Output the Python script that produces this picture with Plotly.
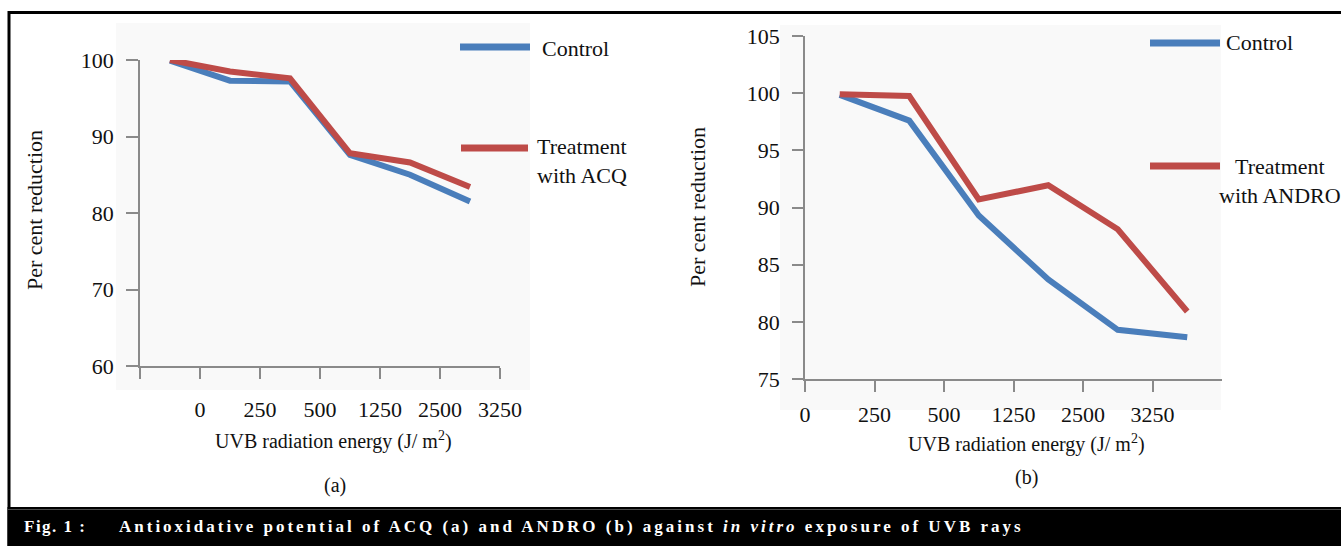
import numpy as np
import plotly.graph_objects as go

W, H = 1341, 546

# ---- data ----
energy_labels = ["0", "250", "500", "1250", "2500", "3250"]
acq_control = [99.9, 97.3, 97.2, 87.6, 85.0, 81.5]
acq_treatment = [100.0, 98.5, 97.6, 87.8, 86.6, 83.4]
andro_control = [99.85, 97.6, 89.3, 83.7, 79.3, 78.65]
andro_treatment = [99.9, 99.75, 90.7, 91.95, 88.1, 80.9]
y_ticks_a = [60, 70, 80, 90, 100]
y_ticks_b = [75, 80, 85, 90, 95, 100, 105]

BLUE = "#4a7ebb"
RED = "#be4b48"
AXIS = "#8a8a8a"
SERIF = "Liberation Serif, Times New Roman, serif"

def px_x(v):
    return v / W

def px_y(v):
    return 1 - v / H

xpos = np.arange(len(energy_labels)) + 0.5

fig = go.Figure()
fig.add_trace(go.Scatter(x=xpos, y=acq_control, mode="lines", name="Control",
                         line=dict(color=BLUE, width=6), xaxis="x", yaxis="y", showlegend=False))
fig.add_trace(go.Scatter(x=xpos, y=acq_treatment, mode="lines", name="Treatment with ACQ",
                         line=dict(color=RED, width=6), xaxis="x", yaxis="y", showlegend=False))
fig.add_trace(go.Scatter(x=xpos, y=andro_control, mode="lines", name="Control",
                         line=dict(color=BLUE, width=6), xaxis="x2", yaxis="y2", showlegend=False))
fig.add_trace(go.Scatter(x=xpos, y=andro_treatment, mode="lines", name="Treatment with ANDRO",
                         line=dict(color=RED, width=6), xaxis="x2", yaxis="y2", showlegend=False))

tickfont = dict(family=SERIF, size=22, color="#111")
axis_common = dict(showline=True, linecolor=AXIS, linewidth=1.5, ticks="outside",
                   tickcolor=AXIS, tickwidth=1.5, showgrid=False, zeroline=False,
                   tickfont=tickfont, fixedrange=True)

n = len(energy_labels)
fig.update_layout(
    width=W, height=H, margin=dict(l=0, r=0, t=0, b=0, autoexpand=False),
    paper_bgcolor="white", plot_bgcolor="rgba(0,0,0,0)",
    xaxis=dict(domain=[px_x(140), px_x(500)], range=[0, n], anchor="y",
               tickmode="array", tickvals=list(range(1, n + 1)),
               ticktext=energy_labels, ticklen=11, ticklabelstandoff=12,
               minor=dict(tickmode="array", tickvals=[0], ticks="outside", ticklen=11,
                          tickcolor=AXIS, tickwidth=1.5, showgrid=False),
               **axis_common),
    yaxis=dict(domain=[px_y(366), px_y(60)], range=[60, 100], anchor="x",
               tickmode="array", tickvals=y_ticks_a, ticklen=12, ticklabelstandoff=8, **axis_common),
    xaxis2=dict(domain=[px_x(805), px_x(1222)], range=[0, n], anchor="y2",
                tickmode="array", tickvals=list(range(n)),
                ticktext=energy_labels, ticklen=11, ticklabelstandoff=4, **axis_common),
    yaxis2=dict(domain=[px_y(379), px_y(36)], range=[75, 105], anchor="x2",
                tickmode="array", tickvals=y_ticks_b, ticklen=11, ticklabelstandoff=8, **axis_common),
)

shapes = []
# subtle chart-area backgrounds
shapes.append(dict(type="rect", xref="paper", yref="paper", layer="below",
                   x0=px_x(116), x1=px_x(530), y0=px_y(390), y1=px_y(23),
                   fillcolor="#f9f9f9", line=dict(width=0)))
shapes.append(dict(type="rect", xref="paper", yref="paper", layer="below",
                   x0=px_x(780), x1=px_x(1221), y0=px_y(410), y1=px_y(25),
                   fillcolor="#f9f9f9", line=dict(width=0)))
# frame
shapes.append(dict(type="line", xref="paper", yref="paper", x0=px_x(8), x1=1, y0=px_y(12.5), y1=px_y(12.5),
                   line=dict(color="black", width=3)))
shapes.append(dict(type="line", xref="paper", yref="paper", x0=px_x(9), x1=px_x(9), y0=0, y1=px_y(11),
                   line=dict(color="black", width=3)))
# caption bar
shapes.append(dict(type="rect", xref="paper", yref="paper", x0=px_x(7.5), x1=1, y0=0, y1=px_y(507),
                   fillcolor="black", line=dict(width=0)))
shapes.append(dict(type="line", xref="paper", yref="paper", x0=px_x(7.5), x1=1, y0=px_y(509.5), y1=px_y(509.5),
                   line=dict(color="#4a4a4a", width=1)))
# legend swatches
for x0, x1, y, c in [(460, 530, 47, BLUE), (461, 528, 148, RED),
                     (1150, 1220, 43, BLUE), (1150, 1220, 166, RED)]:
    shapes.append(dict(type="line", xref="paper", yref="paper", x0=px_x(x0), x1=px_x(x1),
                       y0=px_y(y), y1=px_y(y), line=dict(color=c, width=7)))
fig.update_layout(shapes=shapes)

ann = []
def text(x, y, s, size=22, xanchor="center", yanchor="middle", angle=0, color="#111", align="center"):
    ann.append(dict(x=px_x(x), y=px_y(y), xref="paper", yref="paper", text=s, showarrow=False,
                    xanchor=xanchor, yanchor=yanchor, textangle=angle, align=align,
                    font=dict(family=SERIF, size=size, color=color)))

text(35, 210, "Per cent reduction", angle=-90)
text(697, 207, "Per cent reduction", angle=-90)
text(333, 440, "UVB radiation energy (J/ m<sup>2</sup>)", size=20)
text(1026, 443, "UVB radiation energy (J/ m<sup>2</sup>)", size=20)
text(335, 485, "(a)", size=20)
text(1026, 477, "(b)", size=20)
text(540, 48, "Control", xanchor="left")
text(535, 161, "Treatment<br>with ACQ", xanchor="left", align="left")
text(1224, 43, "Control", xanchor="left")
text(1217, 181, "Treatment<br>with ANDRO", xanchor="left")
text(22, 526, '<span style="letter-spacing:1.5px"><b>Fig. 1 :</b></span>', size=17, xanchor="left", color="white")
text(117, 526, '<span style="letter-spacing:3px"><b>Antioxidative potential of ACQ (a) and ANDRO (b) against '
     '<i>in vitro</i> exposure of UVB rays</b></span>',
     size=17, xanchor="left", color="white")
fig.update_layout(annotations=ann)

fig.write_html("out.html", config={"displayModeBar": False},
               post_script="document.body.style.margin='0';document.body.style.overflow='hidden';")
